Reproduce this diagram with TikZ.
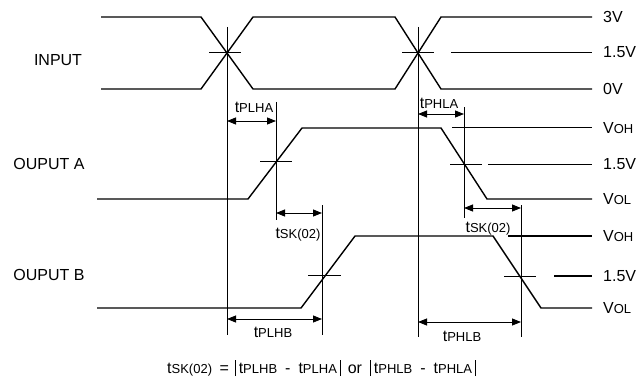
\documentclass[tikz,border=0pt]{standalone}
\usepackage{fontspec}
\setmainfont{Liberation Sans}
\usetikzlibrary{arrows.meta}
\newcommand\mysubt[1]{t{\fontsize{13}{13}\selectfont #1}}
\newcommand\mysubv[1]{V{\fontsize{13}{13}\selectfont #1}}
\newcommand\mybar{\rule[-3pt]{0.9pt}{16pt}}
\newcommand\mydash{\hspace{8pt}-\hspace{8pt}}
\begin{document}
\begin{tikzpicture}[x=1pt,y=-1pt,
  wave/.style={line width=1.4pt},
  thinl/.style={line width=0.8pt},
  thickl/.style={line width=2.2pt},
  dim/.style={line width=0.8pt,{Triangle[length=9pt,width=7pt]}-{Triangle[length=9pt,width=7pt]}},
  lbl/.style={font=\fontsize{16}{16}\selectfont, inner sep=0pt},
  rlbl/.style={lbl, anchor=west},
  blbl/.style={lbl, anchor=base}]
\useasboundingbox (0,0) rectangle (636,377);
% ---- INPUT ----
\draw[wave] (101,17) -- (201,17) -- (253,89) -- (395,89) -- (441,17) -- (592,17);
\draw[wave] (101,89) -- (201,89) -- (253,17) -- (395,17) -- (441,89) -- (592,89);
\draw[thinl] (209,52) -- (241,52);
\draw[thinl] (402,52) -- (434,52);
\draw[thinl] (451,52) -- (592,52);
% ---- OUTPUT A ----
\draw[wave] (97,199) -- (248,199) -- (302,128) -- (441,128) -- (487,199) -- (592,199);
\draw[thinl] (260,161) -- (292,161);
\draw[thinl] (450,164) -- (482,164);
\draw[thinl] (488,164) -- (592,164);
\draw[thinl] (452,127) -- (592,127);
% ---- OUTPUT B ----
\draw[wave] (97,308) -- (301,308) -- (355,236) -- (493,236) -- (541,308) -- (592,308);
\draw[thinl] (308,275) -- (341,275);
\draw[thinl] (504,276) -- (536,276);
\draw[thickl] (554,276) -- (592,276);
\draw[thickl] (508,236) -- (592,236);
% ---- reference verticals ----
\coordinate (v1t) at (227,27);   \coordinate (v1b) at (227,335);
\coordinate (v2t) at (418,27);   \coordinate (v2b) at (418,337);
\coordinate (v3t) at (276,102);  \coordinate (v3b) at (276,220);
\coordinate (v4t) at (464,107);  \coordinate (v4b) at (464,218);
\coordinate (v5t) at (322,205);  \coordinate (v5b) at (322,335);
\coordinate (v6t) at (521,205);  \coordinate (v6b) at (521,337);
\draw[thinl] (v1t) -- (v1b);
\draw[thinl] (v2t) -- (v2b);
\draw[thinl] (v3t) -- (v3b);
\draw[thinl] (v4t) -- (v4b);
\draw[thinl] (v5t) -- (v5b);
\draw[thinl] (v6t) -- (v6b);
% ---- dimension arrows ----
\coordinate (a1l) at (227,121); \coordinate (a1r) at (276,121);
\coordinate (a2l) at (418,114); \coordinate (a2r) at (464,114);
\coordinate (a3l) at (276,213); \coordinate (a3r) at (322,213);
\coordinate (a4l) at (464,208); \coordinate (a4r) at (521,208);
\coordinate (a5l) at (227,319); \coordinate (a5r) at (322,319);
\coordinate (a6l) at (418,322); \coordinate (a6r) at (521,322);
\draw[dim] (a1l) -- (a1r);
\draw[dim] (a2l) -- (a2r);
\draw[dim] (a3l) -- (a3r);
\draw[dim] (a4l) -- (a4r);
\draw[dim] (a5l) -- (a5r);
\draw[dim] (a6l) -- (a6r);
% ---- dimension labels ----
\node[blbl] (tplha) at (254,113) {\mysubt{PLHA}};
\node[blbl] (tphla) at (439,108) {\mysubt{PHLA}};
\node[blbl] (tska) at (298,238) {\mysubt{SK(02)}};
\node[blbl] (tskb) at (488,232) {\mysubt{SK(02)}};
\node[blbl] (tplhb) at (273,337) {\mysubt{PLHB}};
\node[blbl] (tphlb) at (462,341) {\mysubt{PHLB}};
% ---- left labels ----
\node[blbl] (in) at (58,66) {INPUT};
\node[blbl] (oa) at (49,169) {OUPUT A};
\node[blbl] (ob) at (49,280) {OUPUT B};
% ---- right labels ----
\node[rlbl] (r1) at (603,17) {3V};
\node[rlbl] (r2) at (603,52) {1.5V};
\node[rlbl] (r3) at (603,89) {0V};
\node[rlbl] (r4) at (603,128) {\mysubv{OH}};
\node[rlbl] (r5) at (603,164) {1.5V};
\node[rlbl] (r6) at (603,199) {\mysubv{OL}};
\node[rlbl] (r7) at (603,236) {\mysubv{OH}};
\node[rlbl] (r8) at (603,276) {1.5V};
\node[rlbl] (r9) at (603,308) {\mysubv{OL}};
% ---- formula ----
\node[lbl, anchor=base west] (form) at (167,373) {\mysubt{SK(02)}\hspace{3pt} =\hspace{6pt}\mybar\hspace{3pt}\mysubt{PLHB}\mydash\mysubt{PLHA}\hspace{3pt}\mybar\hspace{7pt}or\hspace{8pt}\mybar\hspace{3pt}\mysubt{PHLB}\mydash\mysubt{PHLA}\hspace{3pt}\mybar};
\end{tikzpicture}
\end{document}
